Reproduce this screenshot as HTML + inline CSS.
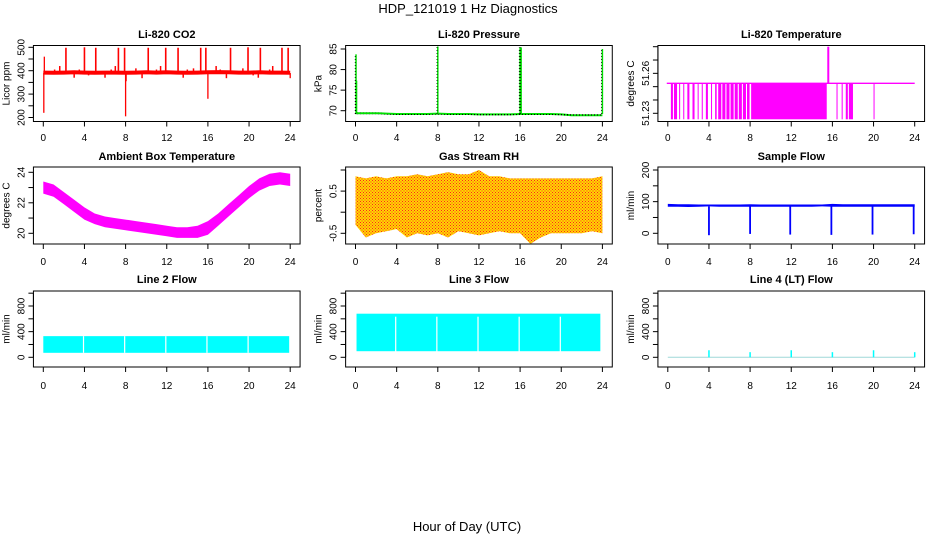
<!DOCTYPE html>
<html><head><meta charset="utf-8">
<style>
html,body{margin:0;padding:0;background:#fff;}
svg{display:block;font-family:"Liberation Sans",Arial,sans-serif;}
</style></head>
<body>
<svg id="chart" width="936" height="540" viewBox="0 0 936 540">
<defs>
<pattern id="rhdots" width="3" height="3" patternUnits="userSpaceOnUse">
<rect width="3" height="3" fill="#ffd800"/>
<rect x="0" y="0" width="1" height="1" fill="#ff2020"/>
<rect x="1.5" y="1.5" width="1" height="1" fill="#ff2020"/>
</pattern>
<pattern id="pdots" width="3" height="3" patternUnits="userSpaceOnUse">
<rect width="3" height="3" fill="#00e000"/>
<rect x="0" y="0" width="1" height="1.5" fill="#000"/>
</pattern>
</defs>
<text x="468" y="13" text-anchor="middle" font-size="13">HDP_121019  1 Hz Diagnostics</text>
<text x="467" y="531" text-anchor="middle" font-size="13">Hour of Day (UTC)</text>
</svg>
<script>
// ---- data ----
const xTicks = [0,4,8,12,16,20,24];
// CO2
const co2Base = [392,391,392,393,392,391,392,392,391,392,393,392,393,392,391,392,393,394,393,392,392,393,392,392,391];
const co2SpikeHours = [2.2,4.0,5.1,7.3,7.9,10.2,11.9,13.1,15.3,15.8,18.2,19.9,21.1,23.2,23.8];
const co2SpikeVals = [498,500,498,498,498,498,498,498,498,498,498,500,498,498,498];
const co2SmallHours = [1.1,1.6,3.0,3.5,4.4,6.0,6.6,7.0,9.0,9.6,11.0,11.4,13.6,14.0,14.6,16.8,17.2,17.8,19.4,20.4,20.9,22.0,22.3];
const co2SmallVals = [405,420,370,405,380,370,405,420,410,368,405,420,370,405,410,420,405,368,410,380,370,405,420];
const co2DipHours = [0.05,0.1,8.0,8.05,16.0,24.0];
const co2DipVals = [220,460,205,355,280,368];
// Pressure
const presBase = [69.4,69.4,69.4,69.3,69.2,69.2,69.2,69.2,69.3,69.2,69.2,69.2,69.1,69.1,69.1,69.1,69.2,69.2,69.2,69.2,69.1,68.9,68.9,68.9,68.9];
const presSpikeHours = [0.05,0.1,8.0,16.0,16.1,24.0];
const presSpikeVals = [83.7,77.3,85.6,85.4,85.4,85.0];
// Li-820 temperature
const tempBase = 51.2525;
const tempDropStart = [0.3,0.6,1.1,1.5,1.9,2.4,2.9,3.3,3.7,4.2,4.6,4.9,5.3,5.7,6.1,6.5,6.9,7.3,7.7,8.1,16.4,16.9,17.3,17.6,20.0];
const tempDropEnd = [0.5,0.9,1.2,1.6,2.1,2.6,3.0,3.4,3.9,4.3,4.75,5.2,5.6,6.0,6.4,6.8,7.2,7.6,7.95,15.45,16.5,17.0,17.5,18.0,20.05];
const tempSpikeHour = 15.6;
const tempSpikeVal = 51.28;
const tempLow = 51.2255;
// Ambient box temp (hourly lo/hi)
const ambLo = [22.6,22.4,21.9,21.4,20.9,20.6,20.4,20.3,20.2,20.1,20.0,19.9,19.8,19.7,19.7,19.7,19.9,20.5,21.1,21.7,22.3,22.8,23.1,23.2,23.1];
const ambHi = [23.4,23.2,22.7,22.2,21.7,21.3,21.1,21.0,20.9,20.8,20.7,20.6,20.5,20.4,20.4,20.5,20.8,21.3,21.9,22.5,23.1,23.6,23.9,24.0,23.9];
// Gas stream RH (hourly lo/hi)
const rhLo = [-0.3,-0.6,-0.5,-0.45,-0.4,-0.6,-0.5,-0.55,-0.5,-0.6,-0.45,-0.5,-0.55,-0.5,-0.45,-0.5,-0.5,-0.75,-0.6,-0.5,-0.5,-0.5,-0.5,-0.45,-0.5];
const rhHi = [0.85,0.8,0.85,0.8,0.85,0.85,0.9,0.85,0.9,0.95,0.9,0.9,1.0,0.85,0.85,0.8,0.8,0.8,0.8,0.8,0.8,0.8,0.8,0.8,0.85];
// Sample flow
const sfLo = [84,84,83,84,85,84,84,84,84,84,84,84,84,84,84,85,84,84,84,84,84,84,84,84,84];
const sfHi = [93,92,92,91,91,91,91,91,92,91,91,91,91,91,91,91,93,92,92,92,92,92,92,92,92];
const sfDipHours = [4.0,8.0,11.9,15.9,19.9,23.9];
const sfDipVals = [-6,-2,-4,-5,-4,-3];
// Line 2 / 3 / 4 flows
const l2Lo = 70, l2Hi = 330, l2End = 23.9;
const l2GapHours = [3.85,7.85,11.85,15.85,19.85];
const l3Lo = 95, l3Hi = 680, l3End = 23.8;
const l3GapHours = [3.85,7.85,11.85,15.85,19.85];
const l4Base = 0;
const l4SpikeHours = [4.0,8.0,12.0,16.0,20.0,24.0];
const l4SpikeVals = [110,80,110,80,110,80];

// ---- layout ----
const svg = document.getElementById('chart');
const NS = 'http://www.w3.org/2000/svg';
const COLX0 = [43.3, 355.5, 667.8], XSPAN = 246.9;
const ROWS = [{top:45.5,bot:121.5,lab:137,title:38},{top:167,bot:244,lab:261,title:160},{top:291,bot:367,lab:385,title:283}];
function mk(tag, attrs, parent){const e=document.createElementNS(NS,tag);for(const k in attrs)e.setAttribute(k,attrs[k]);(parent||svg).appendChild(e);return e;}

function panel(name, col, row, title, ylab, v1, p1, v2, p2, yticks, ylabels){
  const g = mk('g',{});
  
  
  const r = ROWS[row], x0 = COLX0[col];
  const X = h => x0 + h*XSPAN/24;
  const Y = v => p1 + (v-v1)*(p2-p1)/(v2-v1);
  const bx = X(-0.96), bw = X(24.96)-bx;
  const t = mk('text',{x:(bx+bw/2).toFixed(1),y:r.title,'text-anchor':'middle','font-size':11,'font-weight':'bold'},g);
  t.textContent = title;
  
  
  const plot = mk('g',{},g);
  
  
  const box = mk('rect',{x:bx,y:r.top,width:bw,height:r.bot-r.top,fill:'none',stroke:'#000','stroke-width':1},g);
  
  
  const xa = mk('g',{},g);
  
  
  mk('line',{x1:X(0),x2:X(24),y1:r.bot,y2:r.bot,stroke:'#000'},xa);
  xTicks.forEach(h=>{
    mk('line',{x1:X(h),x2:X(h),y1:r.bot,y2:r.bot+5,stroke:'#000'},xa);
    const tx = mk('text',{x:X(h),y:r.lab+4,'text-anchor':'middle','font-size':10},xa);
    tx.textContent = h;
  });
  const ya = mk('g',{},g);
  
  
  mk('line',{x1:bx,x2:bx,y1:Y(yticks[0]),y2:Y(yticks[yticks.length-1]),stroke:'#000'},ya);
  yticks.forEach(v=>{
    mk('line',{x1:bx-5,x2:bx,y1:Y(v),y2:Y(v),stroke:'#000'},ya);
  });
  ylabels.forEach(v=>{
    const yy = Y(v), xx = bx-9;
    const tl = mk('text',{x:xx,y:yy,'text-anchor':'middle','font-size':10,transform:`rotate(-90 ${xx} ${yy})`},ya);
    tl.textContent = v;
  });
  const yt = mk('text',{x:bx-24,y:(r.top+r.bot)/2,'text-anchor':'middle','font-size':10,transform:`rotate(-90 ${bx-24} ${(r.top+r.bot)/2})`},g);
  yt.textContent = ylab;
  
  
  return {X,Y,plot};
}
function band(p, lo, hi, fill, step){
  let pts=[];
  for(let i=0;i<lo.length;i++) pts.push(`${p.X(i*step).toFixed(1)},${p.Y(hi[i]).toFixed(1)}`);
  for(let i=lo.length-1;i>=0;i--) pts.push(`${p.X(i*step).toFixed(1)},${p.Y(lo[i]).toFixed(1)}`);
  return mk('polygon',{points:pts.join(' '),fill:fill},p.plot);
}
function vline(p, h, a, b, color, w){
  return mk('line',{x1:p.X(h),x2:p.X(h),y1:p.Y(a),y2:p.Y(b),stroke:color,'stroke-width':w||1.3},p.plot);
}

// P1 CO2
let p = panel('co2',0,0,'Li-820 CO2','Licor ppm',500,47.3,200,117.5,[200,250,300,350,400,450,500],[200,300,400,500]);
let pts = co2Base.map((v,i)=>`${p.X(i).toFixed(1)},${p.Y(v).toFixed(1)}`).join(' ');
mk('polyline',{points:pts,fill:'none',stroke:'#ff0000','stroke-width':4},p.plot);
co2SpikeHours.forEach((h,i)=>{vline(p,h,390,co2SpikeVals[i],'#ff0000',1.6);});
co2SmallHours.forEach((h,i)=>{vline(p,h,390,co2SmallVals[i],'#ff0000',1.5);});
co2DipHours.forEach((h,i)=>{vline(p,h,390,co2DipVals[i],'#ff0000',1.3);});

// P2 Pressure
p = panel('pressure',1,0,'Li-820 Pressure','kPa',70,110.7,85,49,[70,75,80,85],[70,75,80,85]);
pts = presBase.map((v,i)=>`${p.X(i).toFixed(1)},${p.Y(v).toFixed(1)}`).join(' ');
mk('polyline',{points:pts,fill:'none',stroke:'url(#pdots)','stroke-width':2},p.plot);
presSpikeHours.forEach((h,i)=>{vline(p,h,69.2,presSpikeVals[i],'#00dd00',1.5);});
presSpikeHours.forEach((h,i)=>{mk('line',{x1:p.X(h)-0.8,x2:p.X(h)-0.8,y1:p.Y(69.2),y2:p.Y(presSpikeVals[i]),stroke:'#000','stroke-width':0.8,'stroke-dasharray':'1 2'},p.plot);});

// P3 Li-820 Temperature
p = panel('li820-temp',2,0,'Li-820 Temperature','degrees C',51.23,113.3,51.28,46.7,[51.23,51.24,51.25,51.26,51.27,51.28],[51.23,51.26]);
mk('line',{x1:p.X(-0.1),x2:p.X(24),y1:p.Y(tempBase),y2:p.Y(tempBase),stroke:'#ff00ff','stroke-width':1.3},p.plot);
tempDropStart.forEach((s,i)=>{
  const x1=p.X(s), x2=Math.max(p.X(tempDropEnd[i]), x1+1);
  mk('rect',{x:x1,y:p.Y(tempBase),width:x2-x1,height:p.Y(tempLow)-p.Y(tempBase),fill:'#ff00ff'},p.plot);
});
mk('rect',{x:p.X(tempSpikeHour)-1,y:p.Y(tempSpikeVal),width:2,height:p.Y(tempBase)-p.Y(tempSpikeVal),fill:'#ff00ff'},p.plot);

// P4 Ambient
p = panel('ambient-temp',0,1,'Ambient Box Temperature','degrees C',20,233.3,24,172.3,[20,21,22,23,24],[20,22,24]);
band(p, ambLo, ambHi, '#ff00ff', 1);

// P5 RH
p = panel('gas-rh',1,1,'Gas Stream RH','percent',-0.5,233.3,1,170,[-0.5,0,0.5,1],[-0.5,0.5]);
band(p, rhLo, rhHi, 'url(#rhdots)', 1);

// P6 Sample flow
p = panel('sample-flow',2,1,'Sample Flow','ml/min',0,233.3,200,170,[0,50,100,150,200],[0,100,200]);
band(p, sfLo, sfHi, '#0000ff', 1);
sfDipHours.forEach((h,i)=>{vline(p,h,85,sfDipVals[i],'#0000ff',1.8);});

// P7 Line 2
p = panel('line2-flow',0,2,'Line 2 Flow','ml/min',0,357.3,800,306,[0,200,400,600,800,1000],[0,400,800]);
mk('rect',{x:p.X(0),y:p.Y(l2Hi),width:p.X(l2End)-p.X(0),height:p.Y(l2Lo)-p.Y(l2Hi),fill:'#00ffff'},p.plot);
l2GapHours.forEach(h=>{mk('rect',{x:p.X(h),y:p.Y(l2Hi),width:1.2,height:p.Y(l2Lo)-p.Y(l2Hi),fill:'#fff'},p.plot);});

// P8 Line 3
p = panel('line3-flow',1,2,'Line 3 Flow','ml/min',0,357.3,800,306,[0,200,400,600,800,1000],[0,400,800]);
mk('rect',{x:p.X(0.1),y:p.Y(l3Hi),width:p.X(l3End)-p.X(0.1),height:p.Y(l3Lo)-p.Y(l3Hi),fill:'#00ffff'},p.plot);
l3GapHours.forEach(h=>{mk('rect',{x:p.X(h),y:p.Y(l3Hi)+3,width:1.2,height:p.Y(l3Lo)-p.Y(l3Hi),fill:'#fff'},p.plot);});

// P9 Line 4
p = panel('line4-flow',2,2,'Line 4 (LT) Flow','ml/min',0,357.3,800,306,[0,200,400,600,800,1000],[0,400,800]);
mk('line',{x1:p.X(0),x2:p.X(24),y1:p.Y(l4Base),y2:p.Y(l4Base),stroke:'#9fd8d8','stroke-width':1},p.plot);
l4SpikeHours.forEach((h,i)=>{vline(p,h,0,l4SpikeVals[i],'#00ffff',1.5);});
</script>
</body></html>
